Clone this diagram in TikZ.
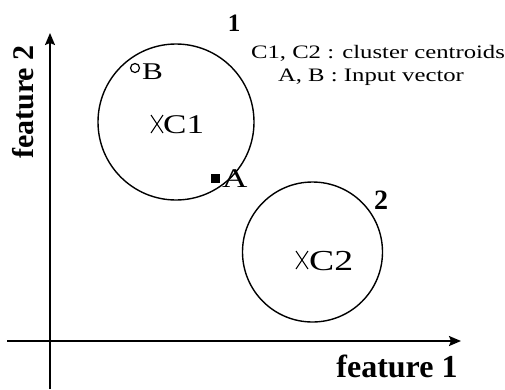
\documentclass[tikz,border=0pt]{standalone}
\usepackage{fontspec}
\usepackage{graphicx}
\setmainfont{Liberation Serif}
\usetikzlibrary{arrows.meta,shapes.misc}

% horizontally widened text, as the labels are set
\newcommand{\widetext}[1]{\scalebox{1.3}[1]{#1}}

\tikzset{
  axis/.style={line width=1.8pt,-{Stealth[length=12pt,width=10pt,inset=2pt]}},
  cluster/.style={draw,circle,line width=1.4pt,inner sep=0pt},
  crossmark/.style={draw,cross out,line width=1pt,inner sep=0pt,minimum width=11pt,minimum height=17pt},
  openpoint/.style={draw,circle,line width=1.2pt,inner sep=0pt,minimum size=9pt},
  solidpoint/.style={fill=black,rectangle,inner sep=0pt,minimum size=9pt},
  ptlabel/.style={font=\fontsize{27}{27}\selectfont,inner sep=0pt,anchor=base west},
  bignum/.style={font=\fontsize{25}{25}\bfseries\selectfont,inner sep=0pt,anchor=base},
  axlabel/.style={font=\fontsize{32}{32}\bfseries\selectfont,inner sep=0pt,anchor=base},
  legend/.style={font=\fontsize{19}{19}\selectfont,inner sep=0pt,anchor=base}
}

\begin{document}
\begin{tikzpicture}[x=1pt,y=-1pt]
\useasboundingbox (0,0) rectangle (505,389);

% axes
\coordinate (ybot) at (50,389);
\coordinate (ytop) at (50,33);
\coordinate (xleft) at (7,341);
\coordinate (xright) at (461,341);
\draw[axis] (ybot) -- (ytop);
\draw[axis] (xleft) -- (xright);
\node[axlabel] (f1) at (397,377) {feature 1};
\node[axlabel,rotate=90,font=\fontsize{30}{30}\bfseries\selectfont] (f2) at (33,102) {feature 2};

% clusters
\node[cluster,minimum size=156pt] (k1) at (176,122) {};
\node[cluster,minimum size=140pt] (k2) at (312.5,252) {};
\node[bignum] (n1) at (234,31) {1};
\node[bignum,font=\fontsize{28}{28}\bfseries\selectfont] (n2) at (381,209) {2};

% centroids
\node[crossmark] (x1) at (157,124) {};
\node[ptlabel] (c1) at (163,133) {\widetext{C1}};
\node[crossmark] (x2) at (302,260) {};
\node[ptlabel,font=\fontsize{29}{29}\selectfont] (c2) at (309,270) {\widetext{C2}};

% input vectors
\node[openpoint] (pb) at (135,68) {};
\node[ptlabel,font=\fontsize{24}{24}\selectfont] (lb) at (142,79) {\widetext{B}};
\node[solidpoint] (pa) at (215,178) {};
\node[ptlabel] (la) at (222,187) {\widetext{A}};

% legend
\node[legend] (lg1) at (378,58) {\widetext{C1, C2 : cluster centroids}};
\node[legend] (lg2) at (371,81) {\widetext{A, B : Input vector}};
\end{tikzpicture}
\end{document}
